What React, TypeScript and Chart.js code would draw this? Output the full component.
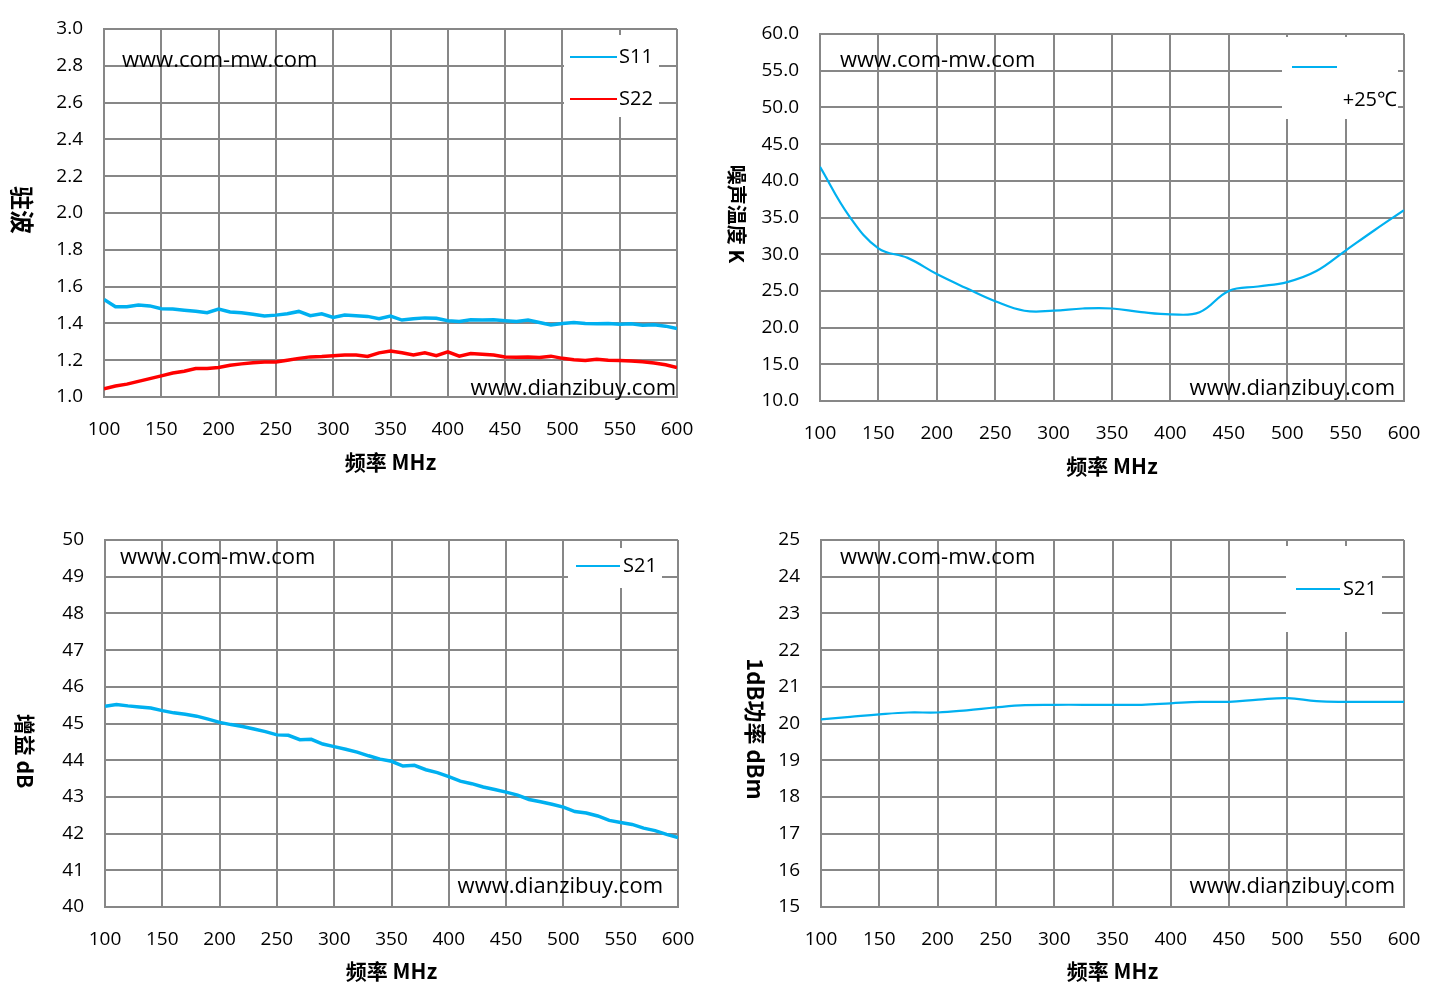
import { useEffect, useRef } from "react";
import { Chart, registerables } from "chart.js";

Chart.register(...registerables);

// frequency grids (MHz)
const freqFine = [
  100, 110, 120, 130, 140, 150, 160, 170, 180, 190, 200, 210, 220, 230, 240, 250, 260,
  270, 280, 290, 300, 310, 320, 330, 340, 350, 360, 370, 380, 390, 400, 410, 420, 430,
  440, 450, 460, 470, 480, 490, 500, 510, 520, 530, 540, 550, 560, 570, 580, 590, 600
];
const freqCoarse = [
  100, 125, 150, 175, 200, 225, 250, 275, 300, 325, 350, 375, 400, 425, 450, 475, 500,
  525, 550, 575, 600
];

// VSWR
const s11 = [
  1.53, 1.49, 1.49, 1.5, 1.495, 1.48, 1.478, 1.472, 1.466, 1.458, 1.478, 1.462, 1.458,
  1.45, 1.44, 1.445, 1.452, 1.465, 1.442, 1.452, 1.432, 1.445, 1.442, 1.438, 1.425, 1.44,
  1.418, 1.425, 1.43, 1.428, 1.415, 1.41, 1.42, 1.418, 1.42, 1.415, 1.41, 1.418, 1.405,
  1.392, 1.4, 1.405, 1.4, 1.398, 1.4, 1.395, 1.398, 1.39, 1.392, 1.385, 1.372
];
const s22 = [
  1.045, 1.06, 1.07, 1.085, 1.1, 1.115, 1.13, 1.14, 1.155, 1.155, 1.16, 1.172, 1.18,
  1.186, 1.19, 1.19, 1.2, 1.21, 1.218, 1.22, 1.224, 1.228, 1.228, 1.22, 1.24, 1.25, 1.24,
  1.228, 1.24, 1.225, 1.245, 1.222, 1.236, 1.232, 1.228, 1.218, 1.216, 1.218, 1.215,
  1.222, 1.21, 1.203, 1.198, 1.205, 1.2, 1.198, 1.195, 1.192, 1.185, 1.175, 1.16
];

// noise temperature (K)
const noiseTemp = [
  41.9, 35.2, 30.8, 29.5, 27.3, 25.4, 23.6, 22.3, 22.3, 22.6, 22.6, 22.1, 21.8, 22.1,
  25.0, 25.6, 26.2, 27.7, 30.5, 33.3, 36.0
];

// gain (dB)
const gain = [
  45.47, 45.52, 45.48, 45.45, 45.42, 45.35, 45.29, 45.25, 45.2, 45.12, 45.03, 44.97,
  44.92, 44.85, 44.78, 44.69, 44.68, 44.56, 44.57, 44.44, 44.37, 44.3, 44.22, 44.12,
  44.03, 43.97, 43.84, 43.86, 43.74, 43.66, 43.55, 43.43, 43.36, 43.27, 43.2, 43.13,
  43.05, 42.93, 42.87, 42.8, 42.72, 42.6, 42.56, 42.48, 42.36, 42.3, 42.25, 42.15,
  42.08, 41.98, 41.89
];

// P1dB (dBm)
const p1dB = [
  20.11, 20.18, 20.25, 20.3, 20.3, 20.36, 20.44, 20.5, 20.51, 20.51, 20.51, 20.51,
  20.55, 20.59, 20.59, 20.65, 20.69, 20.61, 20.59, 20.59, 20.59
];

const BLUE = "#00b0f0";
const RED = "#ff0000";
const GRID = "#878787";
const LATIN = "'Open Sans', 'Liberation Sans', sans-serif";
const CJK = "'Noto Sans CJK SC', 'Open Sans', sans-serif";

const pts = (xs: number[], ys: number[]) => xs.map((x, i) => ({ x, y: ys[i] }));

type LegendItem = { label: string; color: string; x1: number; x2: number; y: number; tx: number; ty: number; align: CanvasTextAlign };

type Spec = {
  box: { left: number; top: number; width: number; height: number };
  plot: { left: number; top: number; right: number; bottom: number };
  y: { min: number; max: number; step: number; digits: number };
  series: { data: { x: number; y: number }[]; color: string; width: number; tension: number }[];
  yTitle: string;
  yTitleAt: [number, number];
  yTitleSize: number;
  xTitleY: number;
  legendBox: [number, number, number, number];
  legend: LegendItem[];
  marks: { text: string; x: number; y: number; align: CanvasTextAlign }[];
};

const specs: Spec[] = [
  {
    box: { left: 0, top: 0, width: 714, height: 495 },
    plot: { left: 104, top: 29, right: 677, bottom: 397 },
    y: { min: 1, max: 3, step: 0.2, digits: 1 },
    series: [
      { data: pts(freqFine, s11), color: BLUE, width: 3.5, tension: 0 },
      { data: pts(freqFine, s22), color: RED, width: 3.5, tension: 0 }
    ],
    yTitle: "驻波",
    yTitleAt: [22, 210],
    yTitleSize: 24,
    xTitleY: 462,
    legendBox: [564, 35, 95, 82],
    legend: [
      { label: "S11", color: BLUE, x1: 570, x2: 617, y: 57, tx: 619, ty: 57, align: "left" },
      { label: "S22", color: RED, x1: 570, x2: 617, y: 99, tx: 619, ty: 99, align: "left" }
    ],
    marks: [
      { text: "www.com-mw.com", x: 122, y: 61, align: "left" },
      { text: "www.dianzibuy.com", x: 676, y: 389, align: "right" }
    ]
  },
  {
    box: { left: 714, top: 0, width: 715, height: 495 },
    plot: { left: 820, top: 34, right: 1404, bottom: 401 },
    y: { min: 10, max: 60, step: 5, digits: 1 },
    series: [{ data: pts(freqCoarse, noiseTemp), color: BLUE, width: 2.2, tension: 0.4 }],
    yTitle: "噪声温度 K",
    yTitleAt: [737, 214],
    yTitleSize: 20,
    xTitleY: 466,
    legendBox: [1282, 37, 116, 82],
    legend: [
      { label: "+25℃", color: BLUE, x1: 1292, x2: 1337, y: 67, tx: 1397, ty: 100, align: "right" }
    ],
    marks: [
      { text: "www.com-mw.com", x: 840, y: 61, align: "left" },
      { text: "www.dianzibuy.com", x: 1395, y: 389, align: "right" }
    ]
  },
  {
    box: { left: 0, top: 495, width: 714, height: 503 },
    plot: { left: 105, top: 540, right: 678, bottom: 907 },
    y: { min: 40, max: 50, step: 1, digits: 0 },
    series: [{ data: pts(freqFine, gain), color: BLUE, width: 3.5, tension: 0 }],
    yTitle: "增益 dB",
    yTitleAt: [25, 751],
    yTitleSize: 21,
    xTitleY: 971,
    legendBox: [568, 548, 94, 40],
    legend: [
      { label: "S21", color: BLUE, x1: 576, x2: 620, y: 566, tx: 623, ty: 566, align: "left" }
    ],
    marks: [
      { text: "www.com-mw.com", x: 120, y: 558, align: "left" },
      { text: "www.dianzibuy.com", x: 663, y: 887, align: "right" }
    ]
  },
  {
    box: { left: 714, top: 495, width: 715, height: 503 },
    plot: { left: 821, top: 540, right: 1404, bottom: 907 },
    y: { min: 15, max: 25, step: 1, digits: 0 },
    series: [{ data: pts(freqCoarse, p1dB), color: BLUE, width: 2.2, tension: 0.4 }],
    yTitle: "1dB功率 dBm",
    yTitleAt: [755, 729],
    yTitleSize: 22,
    xTitleY: 971,
    legendBox: [1286, 546, 96, 86],
    legend: [
      { label: "S21", color: BLUE, x1: 1296, x2: 1340, y: 589, tx: 1343, ty: 589, align: "left" }
    ],
    marks: [
      { text: "www.com-mw.com", x: 840, y: 558, align: "left" },
      { text: "www.dianzibuy.com", x: 1395, y: 887, align: "right" }
    ]
  }
];

const Y_AXIS_W = 60;
const X_AXIS_H = 40;

function Panel({ spec }: { spec: Spec }) {
  const ref = useRef<HTMLCanvasElement | null>(null);

  useEffect(() => {
    if (!ref.current) return;
    const { box, plot } = spec;
    const ox = box.left;
    const oy = box.top;

    const overlay = {
      id: "overlay",
      beforeDatasetsDraw(chart: Chart) {
        const ctx = chart.ctx;
        const [lx, ly, lw, lh] = spec.legendBox;
        ctx.save();
        ctx.fillStyle = "#ffffff";
        ctx.fillRect(lx - ox, ly - oy, lw, lh);
        ctx.restore();
      },
      afterDraw(chart: Chart) {
        const ctx = chart.ctx;
        ctx.save();
        // legend
        for (const it of spec.legend) {
          ctx.strokeStyle = it.color;
          ctx.lineWidth = 2.2;
          ctx.beginPath();
          ctx.moveTo(it.x1 - ox, it.y - oy);
          ctx.lineTo(it.x2 - ox, it.y - oy);
          ctx.stroke();
          ctx.fillStyle = "#000";
          ctx.font = `20px ${LATIN}`;
          ctx.textAlign = it.align;
          ctx.textBaseline = "middle";
          ctx.fillText(it.label, it.tx - ox, it.ty - oy);
        }
        // watermarks
        ctx.fillStyle = "#000";
        ctx.font = `22px ${LATIN}`;
        ctx.textBaseline = "middle";
        for (const m of spec.marks) {
          ctx.textAlign = m.align;
          ctx.fillText(m.text, m.x - ox, m.y - oy);
        }
        // x title
        ctx.font = `bold 21px ${CJK}`;
        ctx.textAlign = "center";
        ctx.fillText("频率 MHz", (plot.left + plot.right) / 2 - ox, spec.xTitleY - oy);
        // y title, rotated clockwise
        ctx.translate(spec.yTitleAt[0] - ox, spec.yTitleAt[1] - oy);
        ctx.rotate(Math.PI / 2);
        ctx.font = `bold ${spec.yTitleSize}px ${CJK}`;
        ctx.fillText(spec.yTitle, 0, 0);
        ctx.restore();
      }
    };

    const chart = new Chart(ref.current, {
      type: "line",
      data: {
        datasets: spec.series.map((s) => ({
          data: s.data,
          borderColor: s.color,
          backgroundColor: s.color,
          borderWidth: s.width,
          tension: s.tension,
          pointRadius: 0,
          fill: false
        }))
      },
      options: {
        animation: false,
        responsive: true,
        maintainAspectRatio: false,
        layout: {
          padding: {
            left: plot.left - ox - Y_AXIS_W,
            top: plot.top - oy,
            right: ox + box.width - plot.right,
            bottom: oy + box.height - plot.bottom - X_AXIS_H
          }
        },
        plugins: { legend: { display: false }, tooltip: { enabled: false } },
        scales: {
          x: {
            type: "linear",
            min: 100,
            max: 600,
            afterFit: (s: any) => {
              s.height = X_AXIS_H;
              s.paddingLeft = 0;
              s.paddingRight = 0;
            },
            ticks: {
              stepSize: 50,
              padding: 21,
              color: "#000",
              font: { family: LATIN, size: 19 }
            },
            grid: { color: GRID, lineWidth: 2, drawTicks: false },
            border: { color: GRID, width: 2 }
          },
          y: {
            min: spec.y.min,
            max: spec.y.max,
            afterFit: (s: any) => {
              s.width = Y_AXIS_W;
              s.paddingTop = 0;
              s.paddingBottom = 0;
            },
            ticks: {
              stepSize: spec.y.step,
              padding: 21,
              color: "#000",
              font: { family: LATIN, size: 19 },
              callback: (v: any) => Number(v).toFixed(spec.y.digits)
            },
            grid: { color: GRID, lineWidth: 2, drawTicks: false },
            border: { color: GRID, width: 2 }
          }
        }
      },
      plugins: [overlay]
    });

    return () => chart.destroy();
  }, [spec]);

  return (
    <div
      style={{
        position: "absolute",
        left: spec.box.left,
        top: spec.box.top,
        width: spec.box.width,
        height: spec.box.height
      }}
    >
      <canvas ref={ref} />
    </div>
  );
}

export default function App() {
  return (
    <div style={{ position: "absolute", left: 0, top: 0, width: 1429, height: 998, background: "#fff" }}>
      {specs.map((s, i) => (
        <Panel key={i} spec={s} />
      ))}
    </div>
  );
}
